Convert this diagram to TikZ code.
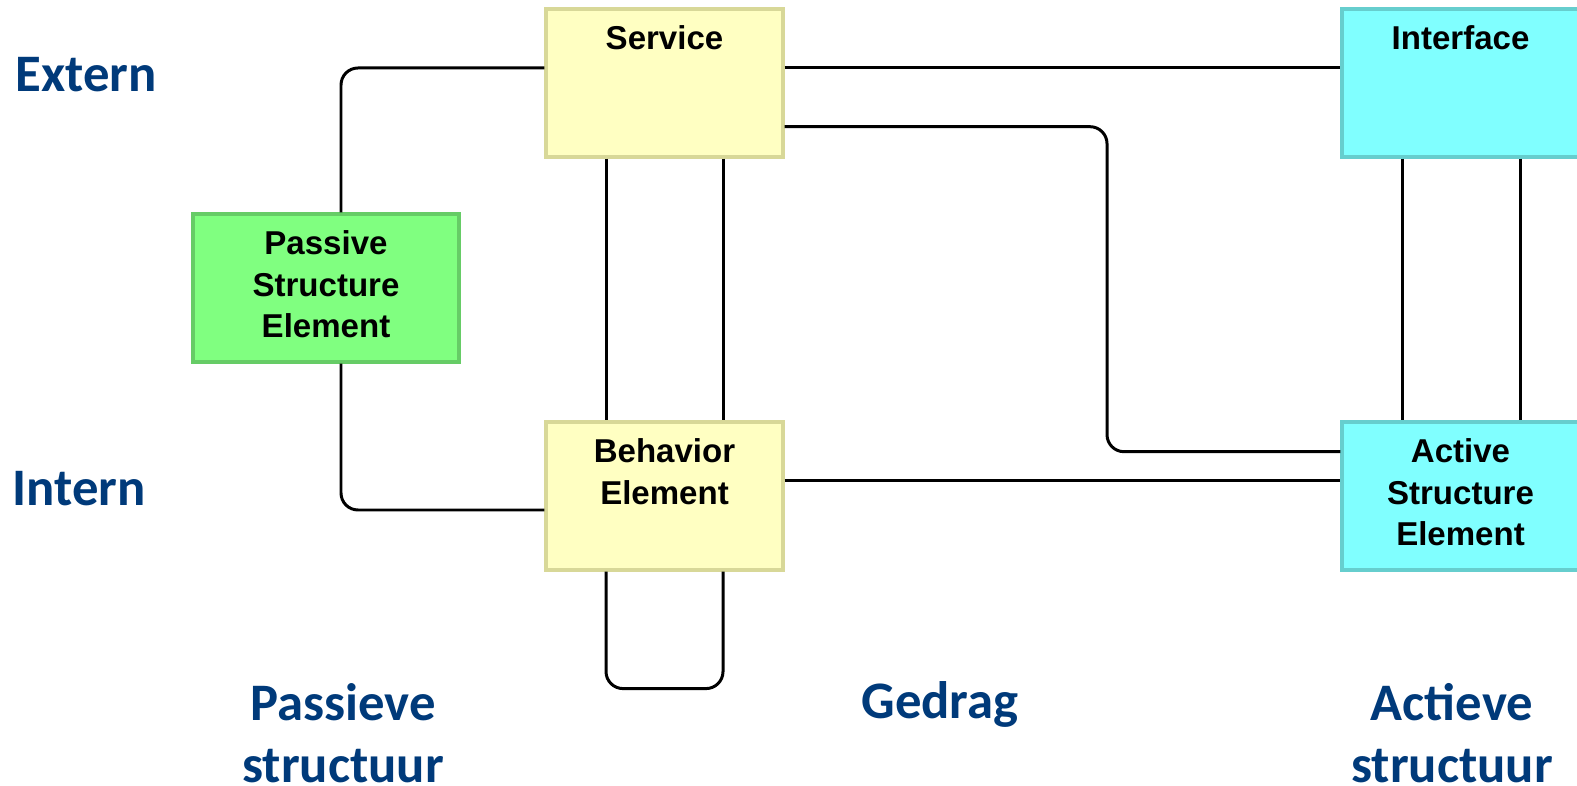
\documentclass[tikz,border=0pt]{standalone}
\usepackage{fontspec}
\setmainfont{Liberation Sans}
\newfontfamily\layerfont{Carlito}
\usetikzlibrary{positioning}
\definecolor{layerblue}{RGB}{0,58,122}
\definecolor{behfill}{RGB}{255,255,194}
\definecolor{behline}{RGB}{216,216,152}
\definecolor{actfill}{RGB}{128,255,255}
\definecolor{actline}{RGB}{102,206,206}
\definecolor{pasfill}{RGB}{128,255,128}
\definecolor{pasline}{RGB}{102,204,102}

\begin{document}
\begin{tikzpicture}[every node/.style={font=\bfseries\fontsize{9.4}{11.86}\selectfont},
    elem/.style={draw, line width=0.9pt, minimum width=2.37cm, minimum height=1.48cm, inner sep=0pt},
    behbox/.style={elem, fill=behfill, draw=behline},
    actbox/.style={elem, fill=actfill, draw=actline},
    pasbox/.style={elem, fill=pasfill, draw=pasline, minimum width=2.66cm},
    boxtext/.style={inner sep=0pt, align=center},
    layer/.style={font=\layerfont\bfseries\fontsize{15}{17.6}\selectfont, text=layerblue, inner sep=0pt, align=center},
    link/.style={draw, line width=0.85pt, rounded corners=0.17cm}]
  \useasboundingbox (0,0) rectangle (15.77,-7.86);

  % elements
  \node[behbox] (service) at (6.645,-0.83) {};
  \node[actbox] (interface) at (14.605,-0.83) {};
  \node[pasbox] (passive) at (3.26,-2.88) {};
  \node[behbox] (behavior) at (6.645,-4.96) {};
  \node[actbox] (active) at (14.605,-4.96) {};

  \node[boxtext, below=0.175cm of service.north] (servicetxt) {Service};
  \node[boxtext, below=0.175cm of interface.north] (interfacetxt) {Interface};
  \node[boxtext, below=0.175cm of passive.north] (passivetxt) {Passive\\Structure\\Element};
  \node[boxtext, below=0.175cm of behavior.north] (behaviortxt) {Behavior\\Element};
  \node[boxtext, below=0.175cm of active.north] (activetxt) {Active\\Structure\\Element};

  % relations
  \coordinate (bend) at (11.07,-2.9);
  \path[link] ([yshift=0.15cm]service.west) -| ([xshift=0.15cm]passive.north);
  \path[link] ([xshift=0.15cm]passive.south) |- ([yshift=-0.14cm]behavior.west);
  \path[link] ([xshift=-0.585cm]service.south) -- ([xshift=-0.585cm]behavior.north);
  \path[link] ([xshift=0.585cm]service.south) -- ([xshift=0.585cm]behavior.north);
  \path[link] ([xshift=-0.585cm]behavior.south) -- ++(0,-1.17) -| ([xshift=0.585cm]behavior.south);
  \path[link] ([yshift=0.15cm]service.east) -- ([yshift=0.15cm]interface.west);
  \path[link] ([yshift=-0.437cm]service.east) -| (bend) |- ([yshift=0.443cm]active.west);
  \path[link] ([yshift=0.153cm]behavior.east) -- ([yshift=0.153cm]active.west);
  \path[link] ([xshift=-0.585cm]interface.south) -- ([xshift=-0.585cm]active.north);
  \path[link] ([xshift=0.595cm]interface.south) -- ([xshift=0.595cm]active.north);

  % layers
  \node[layer, anchor=west] (extern) at (0.15,-0.75) {Extern};
  \node[layer, anchor=west] (intern) at (0.12,-4.89) {Intern};
  \node[layer, anchor=north] (passieve) at (3.43,-6.83) {Passieve\\structuur};
  \node[layer, anchor=north] (gedrag) at (9.40,-6.81) {Gedrag};
  \node[layer, anchor=north] (actieve) at (14.52,-6.83) {Actieve\\structuur};
\end{tikzpicture}
\end{document}
